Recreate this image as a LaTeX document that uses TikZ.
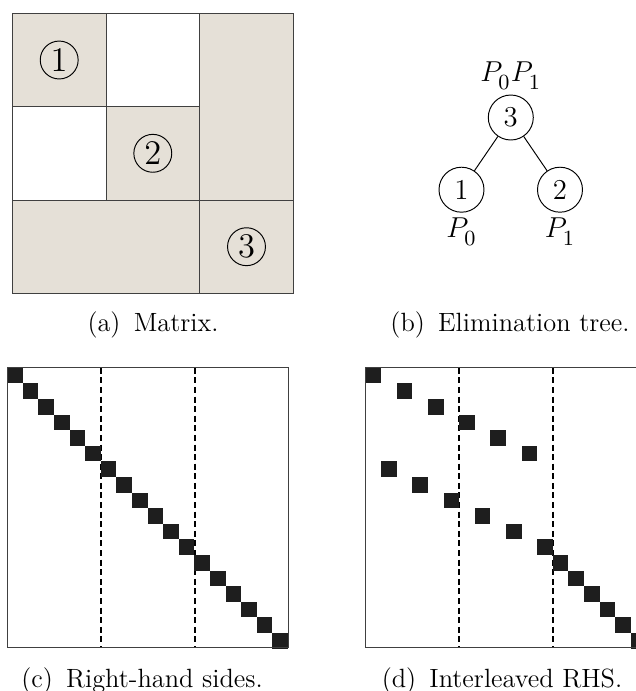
\documentclass[tikz,border=0pt]{standalone}
\usepackage{amsmath,amssymb}
\usepackage{xcolor}
\usepackage{tikz}
\usetikzlibrary{
  arrows.meta,
  positioning
}
\definecolor{blockbeige}{RGB}{229,224,215}
\definecolor{entryblack}{RGB}{30,30,30}
\newcommand{\proc}[1]{P_{\lower1.5pt\hbox{$\scriptstyle #1$}}}

\begin{document}
\begin{tikzpicture}[
  x=0.4167pt, y=-0.4167pt,
  gridline/.style={draw=black!75},
  circnum/.style={draw, circle, minimum size=15.8pt, inner sep=0pt, font=\Large},
  treenode/.style={draw, circle, minimum size=18.75pt, inner sep=0pt, font=\large},
  proclabel/.style={inner sep=0pt, font=\fontsize{12.5}{15}\selectfont},
  entry/.style={fill=entryblack, draw=none},
  blocksep/.style={dash pattern=on 2.5pt off 1.5pt, line width=0.8pt},
  subcap/.style={anchor=base, inner sep=0pt, font=\fontsize{11}{13}\selectfont},
  node distance=2pt
]
  \useasboundingbox (0,0) rectangle (636,691);

  \fill[blockbeige] (12.3,13.3) rectangle (106,106.6);
  \fill[blockbeige] (106,106.6) rectangle (199.6,200);
  \fill[blockbeige] (199.6,13.3) rectangle (293.3,200);
  \fill[blockbeige] (12.3,200) rectangle (293.3,293.3);
  \draw[gridline] (106,13.3) -- (106,200);
  \draw[gridline] (12.3,106.6) -- (199.6,106.6);
  \draw[gridline] (199.6,13.3) -- (199.6,293.3);
  \draw[gridline] (12.3,200) -- (293.3,200);
  \draw[gridline] (12.3,13.3) rectangle (293.3,293.3);
  \node[circnum] (b1) at (59.2,60) {1};
  \node[circnum] (b2) at (152.8,153.3) {2};
  \node[circnum] (b3) at (246.5,246.7) {3};
  \node[subcap] (capa) at (153,331) {(a)\enspace Matrix.};

  \node[treenode] (n3) at (510.8,117.5) {3};
  \node[treenode] (n1) at (461.5,189.7) {1};
  \node[treenode] (n2) at (560,189.7) {2};
  \node[proclabel, above=2pt of n3] (p01) {$\proc{0}\proc{1}$};
  \node[proclabel, below=2pt of n1] (p0) {$\proc{0}$};
  \node[proclabel, below=2pt of n2] (p1) {$\proc{1}$};
  \draw (n3) -- (n1);
  \draw (n3) -- (n2);
  \node[subcap] (capb) at (510,331) {(b)\enspace Elimination tree.};

  \draw[blocksep] (101,367.7) -- (101,647.7);
  \draw[blocksep] (194.6,367.7) -- (194.6,647.7);
  \foreach \i in {0,...,17}
    \fill[entry] ({7.3+15.6*\i},{367.7+15.6*\i}) rectangle +(15.6,15.6);
  \draw[gridline] (7.3,367.7) rectangle (288.3,647.7);
  \node[subcap] (capc) at (142,687) {(c)\enspace Right-hand sides.};

  \draw[blocksep] (459.4,367.7) -- (459.4,647.7);
  \draw[blocksep] (553,367.7) -- (553,647.7);
  \foreach \r/\c in {0/0,1/2,2/4,3/6,4/8,5/10,6/1,7/3,8/5,9/7,10/9,11/11,
                     12/12,13/13,14/14,15/15,16/16,17/17}
    \fill[entry] ({365.7+15.6*\c},{367.7+15.6*\r}) rectangle +(15.6,15.6);
  \draw[gridline] (365.7,367.7) rectangle (646.7,647.7);
  \node[subcap] (capd) at (502,687) {(d)\enspace Interleaved RHS.};
\end{tikzpicture}
\end{document}
